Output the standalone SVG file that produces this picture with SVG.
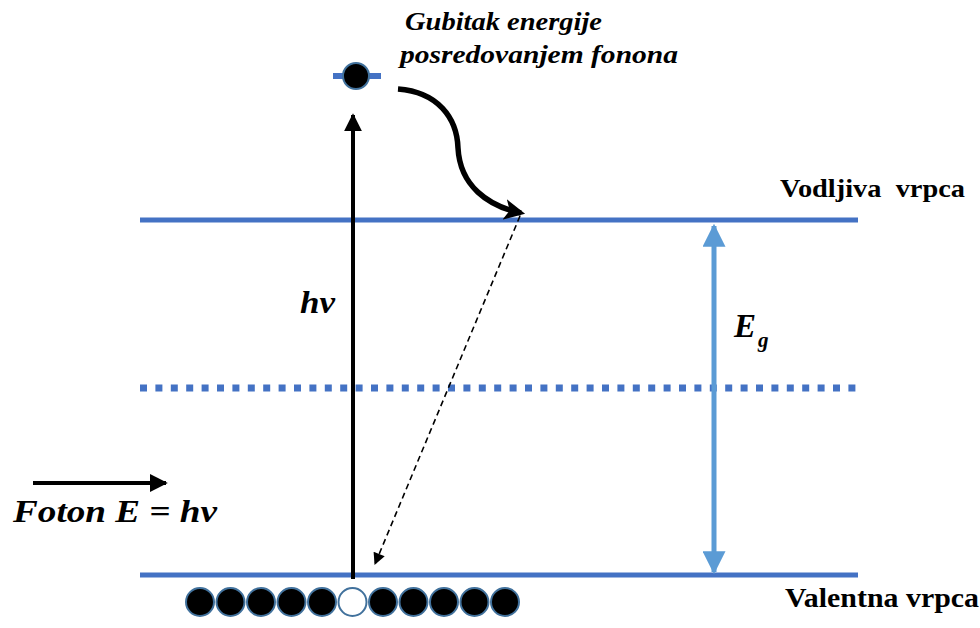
<svg xmlns="http://www.w3.org/2000/svg" width="980" height="628" viewBox="0 0 980 628">
<style>
.band{stroke:#4472C4;stroke-width:5;fill:none}
text{font-family:'Liberation Serif','Times New Roman','DejaVu Serif',serif;font-weight:bold;fill:#000}
.it{font-style:italic}
.e{fill:#000;stroke:#41719C;stroke-width:2}
.h{fill:#fff;stroke:#41719C;stroke-width:2}
</style>
<defs>
<marker id="ab" viewBox="0 0 10 10" refX="9" refY="5" markerWidth="4.5" markerHeight="4.5" orient="auto-start-reverse" markerUnits="strokeWidth"><path d="M0,0 L10,5 L0,10 z" fill="#000"/></marker>
<marker id="ad" viewBox="0 0 10 10" refX="9" refY="5" markerWidth="14" markerHeight="12" orient="auto" markerUnits="userSpaceOnUse"><path d="M0,0 L10,5 L0,10 z" fill="#000"/></marker>
<marker id="ac" viewBox="0 0 10 10" refX="8" refY="5" markerWidth="3.8" markerHeight="3.8" orient="auto" markerUnits="strokeWidth"><path d="M0,0 L10,5 L0,10 L2.5,5 z" fill="#000"/></marker>
<marker id="ae" viewBox="0 0 10 10" refX="9" refY="5" markerWidth="4.6" markerHeight="4.6" orient="auto-start-reverse" markerUnits="strokeWidth"><path d="M0,0 L10,5 L0,10 z" fill="#5B9BD5"/></marker>
</defs>
<g id="bands">
<line class="band" x1="140" y1="220" x2="858" y2="220"/>
<line class="band" x1="140" y1="575" x2="858" y2="575"/>
<line x1="140" y1="388" x2="858" y2="388" stroke="#4472C4" stroke-width="7" stroke-dasharray="7 8.4"/>
</g>
<g id="excited">
<line x1="333" y1="76" x2="381" y2="76" stroke="#4472C4" stroke-width="6"/>
<circle class="e" cx="356" cy="76" r="13"/>
</g>
<g id="valence-electrons">
<circle class="e" cx="200" cy="602" r="14"/>
<circle class="e" cx="230.5" cy="602" r="14"/>
<circle class="e" cx="261" cy="602" r="14"/>
<circle class="e" cx="291.5" cy="602" r="14"/>
<circle class="e" cx="322" cy="602" r="14"/>
<circle class="h" cx="352.5" cy="602" r="14"/>
<circle class="e" cx="383" cy="602" r="14"/>
<circle class="e" cx="413.5" cy="602" r="14"/>
<circle class="e" cx="444" cy="602" r="14"/>
<circle class="e" cx="474.5" cy="602" r="14"/>
<circle class="e" cx="505" cy="602" r="14"/>
</g>
<g id="connectors">
<line x1="353" y1="579" x2="353" y2="115" stroke="#000" stroke-width="4" marker-end="url(#ab)"/>
<path d="M398,89 C438,92 457,118 458,148 C460,186 488,206 521,213" fill="none" stroke="#000" stroke-width="5.5" marker-end="url(#ac)"/>
<line x1="520" y1="216" x2="375" y2="564" stroke="#000" stroke-width="1.6" stroke-dasharray="6 4" marker-end="url(#ad)"/>
<line x1="714" y1="226" x2="714" y2="572" stroke="#5B9BD5" stroke-width="5" marker-start="url(#ae)" marker-end="url(#ae)"/>
<line x1="33" y1="483" x2="166" y2="483" stroke="#000" stroke-width="4" marker-end="url(#ab)"/>
</g>
<g id="labels">
<text class="it" x="405" y="30" font-size="25" textLength="197" lengthAdjust="spacingAndGlyphs">Gubitak energije</text>
<text class="it" x="400" y="63" font-size="25" textLength="278" lengthAdjust="spacingAndGlyphs">posredovanjem fonona</text>
<text x="780" y="197" font-size="26" xml:space="preserve" textLength="185" lengthAdjust="spacingAndGlyphs">Vodljiva  vrpca</text>
<text x="785" y="607" font-size="27" textLength="194" lengthAdjust="spacingAndGlyphs">Valentna vrpca</text>
<text class="it" x="300" y="313" font-size="31" textLength="35" lengthAdjust="spacingAndGlyphs">hv</text>
<text class="it" x="734" y="337" font-size="33">E</text>
<text class="it" x="758" y="347" font-size="21">g</text>
<text class="it" x="13" y="522" font-size="31" textLength="204" lengthAdjust="spacingAndGlyphs">Foton E = hv</text>
</g>
</svg>
